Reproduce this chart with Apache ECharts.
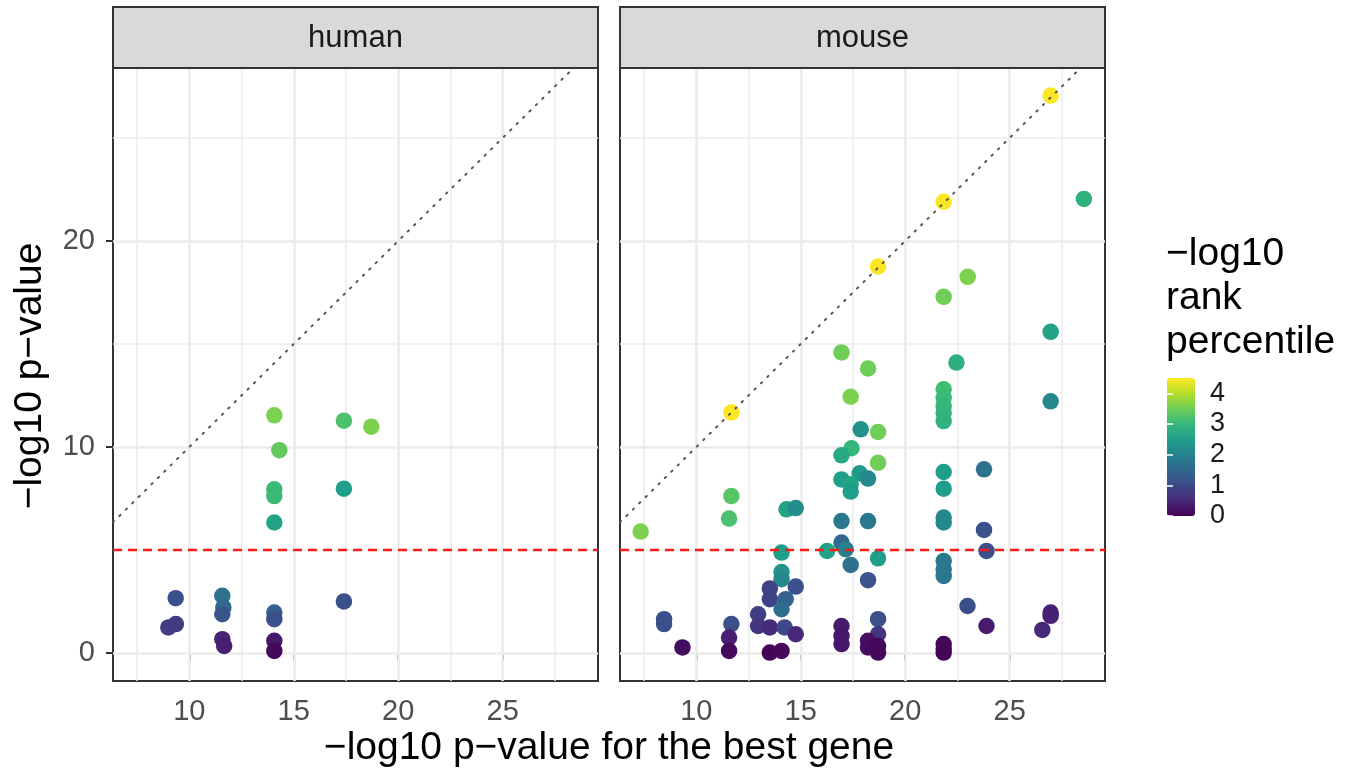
<!DOCTYPE html>
<html>
<head>
<meta charset="utf-8">
<script src="https://cdn.jsdelivr.net/npm/echarts@6/dist/echarts.min.js"></script>
<style>html,body{margin:0;padding:0;background:#fff;}#chart{width:1360px;height:781px;}</style>
</head>
<body>
<div id="chart"></div>
<script>
// ---- data ----
const panels = ['human', 'mouse'];
const humanX = [9.0, 9.36, 9.35, 11.58, 11.63, 11.58, 11.58, 11.67, 14.07, 14.31, 14.07, 14.07, 14.07, 14.07, 14.07, 14.07, 14.07, 17.4, 17.4, 17.4, 18.71];
const humanY = [1.25, 1.41, 2.67, 2.78, 2.22, 1.89, 0.68, 0.35, 11.54, 9.85, 7.95, 7.62, 6.34, 1.97, 1.65, 0.6, 0.11, 11.28, 7.98, 2.51, 10.99];
const humanRank = [0.8, 0.8, 1.1, 1.7, 1.5, 1.2, 0.45, 0.4, 3.6, 3.4, 3.05, 3.05, 2.6, 1.35, 1.15, 0.3, 0.1, 3.2, 2.5, 1.1, 3.6];

const mouseX = [26.96, 21.84, 18.7, 11.68, 28.55, 22.99, 21.84, 26.96, 16.95, 18.22,
  22.45, 17.39, 21.84, 21.84, 21.84, 21.84, 21.84, 26.96, 17.87, 18.7,
  17.43, 16.95, 18.7, 16.95, 17.82, 18.22, 17.39, 17.39, 21.84, 21.84,
  23.77, 11.68, 11.57, 7.34, 14.32, 14.76, 16.95, 18.22, 21.84, 21.84,
  23.77, 16.95, 17.15, 16.26, 14.08, 23.89, 17.39, 18.7, 21.84, 21.84,
  21.84, 18.22, 14.08, 14.08, 13.52, 14.76, 13.52, 14.28, 14.08, 22.98,
  12.96, 8.46, 8.46, 11.68, 12.96, 13.52, 14.23, 14.76, 26.96, 26.96,
  26.56, 23.89, 16.95, 16.95, 16.95, 18.7, 18.7, 18.22, 18.22, 18.7,
  18.7, 21.84, 21.84, 11.57, 11.57, 9.34, 13.52, 14.08, 21.84];
const mouseY = [27.05, 21.9, 18.76, 11.68, 22.04, 18.26, 17.29, 15.59, 14.59, 13.81,
  14.1, 12.44, 12.8, 12.39, 11.99, 11.67, 11.26, 12.22, 10.86, 10.73,
  9.94, 9.6, 9.24, 8.43, 8.73, 8.47, 8.19, 7.84, 8.79, 7.98,
  8.92, 7.62, 6.53, 5.9, 6.98, 7.04, 6.41, 6.41, 6.58, 6.34,
  5.98, 5.37, 5.04, 4.96, 4.88, 4.96, 4.28, 4.6, 4.47, 4.07,
  3.75, 3.54, 3.94, 3.59, 3.14, 3.23, 2.62, 2.62, 2.13, 2.29,
  1.89, 1.65, 1.41, 1.41, 1.32, 1.25, 1.25, 0.92, 1.97, 1.81,
  1.13, 1.32, 1.32, 0.84, 0.44, 1.65, 0.92, 0.6, 0.28, 0.35,
  0.03, 0.44, 0.03, 0.76, 0.11, 0.28, 0.03, 0.11, 0.2];
const mouseRank = [4.5, 4.5, 4.5, 4.5, 2.9, 3.6, 3.5, 2.6, 3.5, 3.5,
  2.85, 3.6, 3.1, 3.05, 3.0, 2.95, 2.9, 2.1, 2.3, 3.5,
  3.0, 2.7, 3.5, 2.5, 2.4, 2.1, 2.6, 2.5, 2.5, 2.5,
  1.7, 3.3, 3.2, 3.6, 2.6, 2.2, 1.8, 1.8, 2.1, 2.1,
  1.15, 1.5, 1.95, 2.6, 2.5, 1.1, 1.65, 2.5, 1.85, 1.8,
  1.8, 1.2, 2.3, 2.1, 0.9, 1.1, 0.9, 1.4, 1.6, 1.1,
  0.85, 1.1, 1.1, 1.1, 0.7, 0.55, 1.0, 0.5, 0.4, 0.4,
  0.5, 0.35, 0.35, 0.3, 0.3, 1.1, 0.7, 0.2, 0.15, 0.1,
  0.1, 0.1, 0.05, 0.4, 0.1, 0.15, 0.05, 0.1, 0.05];

const xTicks = [10, 15, 20, 25];
const xMinorGrid = [7.5, 12.5, 17.5, 22.5, 27.5];
const yTicks = [0, 10, 20];
const yMinorGrid = [5, 15, 25];
const threshold = 5;
const rankTicks = [0, 1, 2, 3, 4];
const rankRange = [0, 4.5];
const xRange = [6.35, 29.56];
const yRange = [-1.35, 28.39];

// ---- styling / layout ----
const FONT = '"Liberation Sans", Arial, Helvetica, sans-serif';
const viridis = ['#440154', '#482878', '#3e4989', '#31688e', '#26828e', '#1f9e89', '#35b779', '#6ece58', '#b5de2b', '#fde725'];
const gridPos = [{left: 113, top: 68, width: 485, height: 613}, {left: 620, top: 68, width: 485, height: 613}];

function zip(xs, ys, cs) { return xs.map((x, i) => [x, ys[i], cs[i]]); }
const pts = [zip(humanX, humanY, humanRank), zip(mouseX, mouseY, mouseRank)];

const grids = [], xAxes = [], yAxes = [], series = [], graphics = [];
panels.forEach((name, i) => {
  grids.push(Object.assign({show: true, backgroundColor: '#fff', borderColor: '#333', borderWidth: 2, containLabel: false}, gridPos[i]));
  xAxes.push({
    gridIndex: i, type: 'value', min: xRange[0], max: xRange[1],
    axisLine: {show: false}, splitLine: {show: false},
    axisTick: {show: true, customValues: xTicks, length: 7, lineStyle: {color: '#333', width: 2}},
    axisLabel: {show: true, customValues: xTicks, margin: 16, fontSize: 29, color: '#4d4d4d', fontFamily: FONT}
  });
  yAxes.push({
    gridIndex: i, type: 'value', min: yRange[0], max: yRange[1],
    axisLine: {show: false}, splitLine: {show: false},
    axisTick: {show: i === 0, customValues: yTicks, length: 7, lineStyle: {color: '#333', width: 2}},
    axisLabel: {show: i === 0, customValues: yTicks, margin: 18, fontSize: 29, color: '#4d4d4d', fontFamily: FONT}
  });
  // grid lines
  const gl = [];
  xMinorGrid.forEach(v => gl.push({coords: [[v, yRange[0]], [v, yRange[1]]], lineStyle: {width: 1.5}}));
  yMinorGrid.forEach(v => gl.push({coords: [[xRange[0], v], [xRange[1], v]], lineStyle: {width: 1.5}}));
  xTicks.forEach(v => gl.push({coords: [[v, yRange[0]], [v, yRange[1]]], lineStyle: {width: 2.6}}));
  yTicks.forEach(v => gl.push({coords: [[xRange[0], v], [xRange[1], v]], lineStyle: {width: 2.6}}));
  series.push({type: 'lines', coordinateSystem: 'cartesian2d', xAxisIndex: i, yAxisIndex: i, silent: true, z: 1,
    lineStyle: {color: '#ebebeb', opacity: 1}, data: gl});
  // points
  series.push({type: 'scatter', name: name, xAxisIndex: i, yAxisIndex: i, z: 2, symbolSize: 16.5,
    itemStyle: {opacity: 1}, data: pts[i]});
  // threshold (red dashed)
  series.push({type: 'lines', coordinateSystem: 'cartesian2d', xAxisIndex: i, yAxisIndex: i, silent: true, z: 3,
    lineStyle: {color: '#ff1a1a', width: 2.4, type: [9, 6], opacity: 1},
    data: [{coords: [[xRange[0], threshold], [xRange[1], threshold]]}]});
  // identity line y = x (dotted)
  const d0 = Math.max(xRange[0], yRange[0]), d1 = Math.min(xRange[1], yRange[1]);
  series.push({type: 'lines', coordinateSystem: 'cartesian2d', xAxisIndex: i, yAxisIndex: i, silent: true, z: 4,
    lineStyle: {color: '#555', width: 2, type: [1.5, 7.5], cap: 'round', opacity: 1},
    data: [{coords: [[d0, d0], [d1, d1]]}]});
  // strip
  const g = gridPos[i];
  graphics.push({type: 'rect', shape: {x: g.left, y: 7, width: g.width, height: 61},
    style: {fill: '#d9d9d9', stroke: '#333', lineWidth: 2}, z: 10});
  graphics.push({type: 'text', x: g.left + g.width / 2, y: 38, z: 11,
    style: {text: name, font: '31px ' + FONT, fill: '#1a1a1a', align: 'center', verticalAlign: 'middle', textAlign: 'center', textVerticalAlign: 'middle'}});
});

// colorbar label axis
grids.push({left: 1167, top: 378, width: 28, height: 138, show: false});
xAxes.push({gridIndex: 2, type: 'value', show: false});
yAxes.push({gridIndex: 2, type: 'value', position: 'right', min: rankRange[0], max: rankRange[1], z: 20,
  axisLine: {show: false}, splitLine: {show: false},
  axisTick: {show: true, inside: true, length: 6, customValues: rankTicks, lineStyle: {color: '#fff', width: 1.5}},
  axisLabel: {show: true, customValues: rankTicks, margin: 15, fontSize: 27, color: '#1a1a1a', fontFamily: FONT,
    formatter: v => (Number.isInteger(v) ? String(v) : '')}});
yAxes.push({gridIndex: 2, type: 'value', position: 'left', min: rankRange[0], max: rankRange[1], z: 20,
  axisLine: {show: false}, splitLine: {show: false}, axisLabel: {show: false},
  axisTick: {show: true, inside: true, length: 6, customValues: rankTicks, lineStyle: {color: '#fff', width: 1.5}}});

// axis titles and legend title
graphics.push({type: 'text', x: 609, y: 748, style: {text: '\u2212log10 p\u2212value for the best gene', font: '39px ' + FONT, fill: '#000',
  align: 'center', verticalAlign: 'middle', textAlign: 'center', textVerticalAlign: 'middle'}});
graphics.push({type: 'text', x: 30, y: 376, rotation: Math.PI / 2, style: {text: '\u2212log10 p\u2212value', font: '39px ' + FONT, fill: '#000',
  align: 'center', verticalAlign: 'middle', textAlign: 'center', textVerticalAlign: 'middle'}});
graphics.push({type: 'text', x: 1166, y: 232, style: {text: '\u2212log10\nrank\npercentile', font: '39px ' + FONT, fill: '#000',
  lineHeight: 44, align: 'left', verticalAlign: 'top'}});

const chart = echarts.init(document.getElementById('chart'), null, {renderer: 'canvas'});
chart.setOption({
  backgroundColor: '#fff',
  animation: false,
  grid: grids,
  xAxis: xAxes,
  yAxis: yAxes,
  visualMap: {
    type: 'continuous', min: rankRange[0], max: rankRange[1], dimension: 2, seriesIndex: [1, 5],
    calculable: false, realtime: false, left: 1167, top: 378, itemWidth: 28, itemHeight: 138, padding: 0,
    inRange: {color: viridis}, text: null, hoverLink: false
  },
  graphic: graphics,
  series: series
});
</script>
</body>
</html>
